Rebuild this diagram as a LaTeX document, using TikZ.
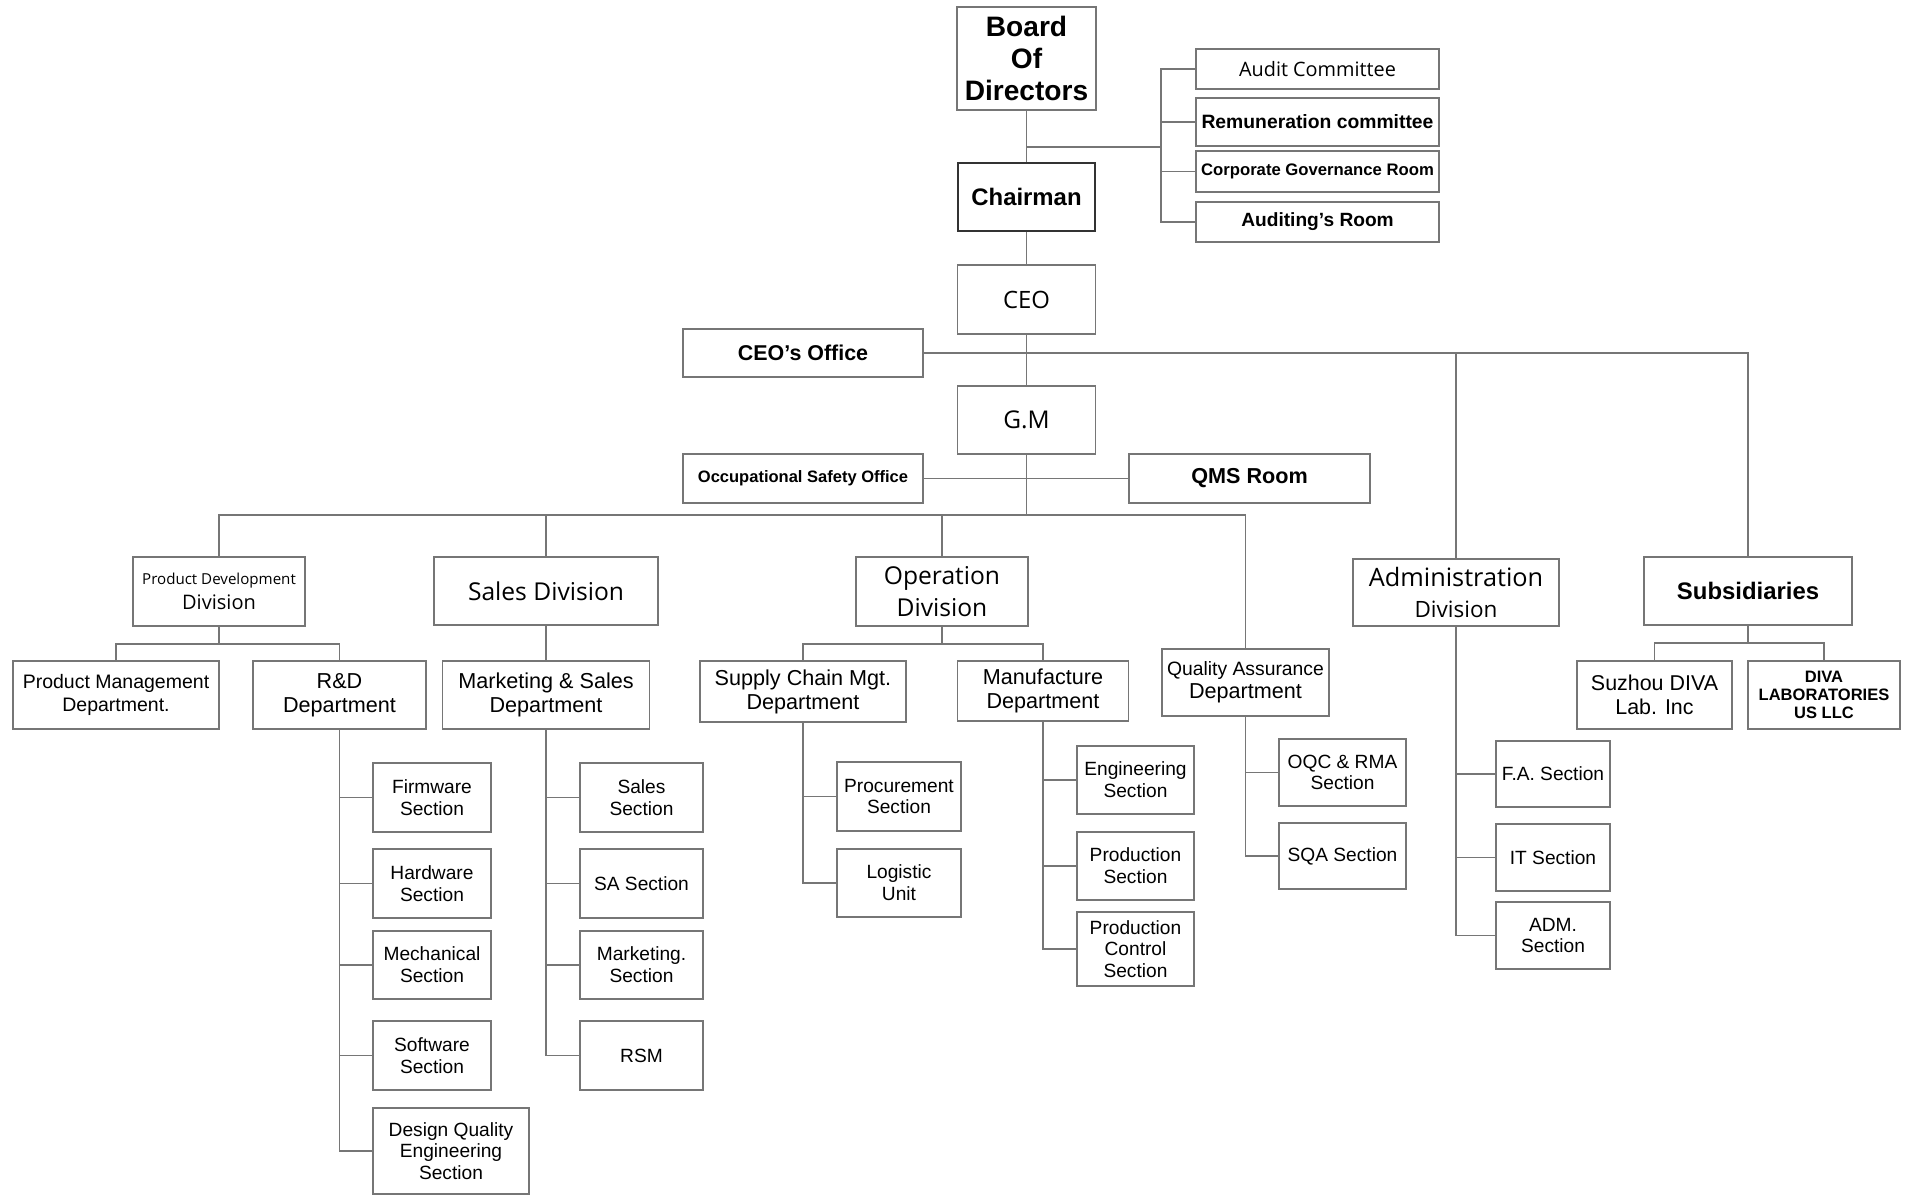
\documentclass[tikz,border=0pt]{standalone}
\usepackage{fontspec}
\setmainfont{Liberation Sans}
\newfontfamily\osans{Open Sans}
\definecolor{ln}{RGB}{118,118,118}
\begin{document}
\begin{tikzpicture}[x=0.02cm,y=-0.02cm,
  box/.style 2 args={draw=ln,line width=0.6pt,inner sep=0pt,align=center,minimum width=#1*0.02cm,minimum height=#2*0.02cm},
  sec/.style={font=\fontsize{10.9}{12.4}\selectfont},
  dept/.style={font=\fontsize{12.3}{13.7}\selectfont},
  wire/.style={draw=ln,line width=0.6pt}]
\fill[white] (0,0) rectangle (1920,1197);

\node[box={139}{103},font=\bfseries\fontsize{16}{18.2}\selectfont] (bod) at (1026.5,58.5) {Board\\Of\\Directors};
\node[box={137}{68},draw=black!80,font=\bfseries\fontsize{13.6}{15}\selectfont] (chair) at (1026.5,197) {Chairman};
\node[box={243}{40},font=\osans\fontsize{11.3}{13}\selectfont] (audit) at (1317.5,69) {Audit Committee};
\node[box={243}{48},font=\bfseries\fontsize{11}{13}\selectfont] (remun) at (1317.5,122) {Remuneration committee};
\node[box={243}{41},font=\bfseries\fontsize{9.5}{11}\selectfont] (corp) at (1317.5,171.5) {Corporate Governance Room};
\node[box={243}{40},font=\bfseries\fontsize{10.9}{12}\selectfont] (auditing) at (1317.5,222) {Auditing’s Room};

\node[box={138}{69},font=\osans\fontsize{13.6}{15}\selectfont] (ceo) at (1026.5,299.5) {CEO};
\node[box={240}{48},font=\bfseries\fontsize{12.2}{14}\selectfont] (ceooff) at (803,353) {CEO’s Office};
\node[box={138}{68},font=\osans\fontsize{13.9}{15}\selectfont] (gm) at (1026.5,420) {G.M};
\node[box={240}{49},font=\bfseries\fontsize{9.4}{11}\selectfont] (oso) at (803,478.5) {Occupational Safety Office};
\node[box={241}{49},font=\bfseries\fontsize{12.3}{14}\selectfont] (qms) at (1249.5,478.5) {QMS Room};

\node[box={172}{69},font=\osans\fontsize{11.4}{14.2}\selectfont] (pdd) at (219,591.5) {{\fontsize{8.6}{10}\selectfont Product Development}\\Division};
\node[box={224}{68},font=\osans\fontsize{14}{16}\selectfont] (sdiv) at (546,591) {Sales Division};
\node[box={172}{69},font=\osans\fontsize{14}{18.2}\selectfont] (odiv) at (942,591.5) {Operation\\Division};
\node[box={167}{67},font=\fontsize{12.3}{12.9}\selectfont] (qa) at (1245.5,682.5) {{\fontsize{11}{12}\selectfont Quality Assurance}\\Department};
\node[box={206}{67},font=\osans\fontsize{12.8}{17.5}\selectfont] (adiv) at (1456,592.5) {{\fontsize{14.4}{16}\selectfont Administration}\\Division};
\node[box={208}{68},font=\bfseries\fontsize{13.6}{15}\selectfont] (subs) at (1748,591) {Subsidiaries};
\node[box={155}{68},font=\fontsize{12.2}{13.7}\selectfont] (suz) at (1654.5,695) {Suzhou DIVA\\Lab. Inc};
\node[box={152}{68},font=\bfseries\fontsize{9.4}{10.4}\selectfont] (diva) at (1824,695) {DIVA\\LABORATORIES\\US LLC};

\node[box={206}{68},font=\fontsize{11.1}{12.9}\selectfont] (pmd) at (116,695) {Product Management\\Department.};
\node[box={173}{68},dept] (rnd) at (339.5,695) {R\&D\\Department};
\node[box={207}{68},dept] (msd) at (546,695) {Marketing \& Sales\\Department};
\node[box={206}{61},dept] (scm) at (803,691.5) {Supply Chain Mgt.\\Department};
\node[box={171}{60},dept] (mfg) at (1043,691) {Manufacture\\Department};

\node[box={118}{69},sec] (fw) at (432,797.5) {Firmware\\Section};
\node[box={118}{69},sec] (hw) at (432,883.5) {Hardware\\Section};
\node[box={118}{68},sec] (mech) at (432,965) {Mechanical\\Section};
\node[box={118}{69},sec] (sw) at (432,1055.5) {Software\\Section};
\node[box={156}{86},sec] (dqe) at (451,1151) {Design Quality\\Engineering\\Section};

\node[box={123}{69},sec] (ss) at (641.5,797.5) {Sales\\Section};
\node[box={123}{69},sec] (sa) at (641.5,883.5) {SA Section};
\node[box={123}{68},sec] (mkt) at (641.5,965) {Marketing.\\Section};
\node[box={123}{69},sec] (rsm) at (641.5,1055.5) {RSM};

\node[box={124}{69},sec] (proc) at (899,796.5) {Procurement\\Section};
\node[box={124}{68},sec] (logi) at (899,883) {Logistic\\Unit};

\node[box={117}{68},sec] (eng) at (1135.5,780) {Engineering\\Section};
\node[box={117}{68},sec] (prod) at (1135.5,866) {Production\\Section};
\node[box={117}{74},sec] (pcs) at (1135.5,949) {Production\\Control\\Section};

\node[box={127}{67},sec] (oqc) at (1342.5,772.5) {OQC \& RMA\\Section};
\node[box={127}{66},sec] (sqa) at (1342.5,856) {SQA Section};

\node[box={114}{66},sec] (fa) at (1553,774) {F.A. Section};
\node[box={114}{67},sec] (it) at (1553,857.5) {IT Section};
\node[box={114}{67},sec] (adm) at (1553,935.5) {ADM.\\Section};

\coordinate (cj) at (1161,147);
\coordinate (hub) at (1026.5,515);
\coordinate (pj) at (219,644);
\coordinate (oj) at (942,644);
\coordinate (sj) at (1748,643);

\draw[wire] (bod.south) -- (chair.north);
\draw[wire] (cj -| bod.south) -- (cj);
\draw[wire] (audit.west) -| (cj);
\draw[wire] (auditing.west) -| (cj);
\draw[wire] (remun.west) -- (remun.west -| cj);
\draw[wire] (corp.west) -- (corp.west -| cj);
\draw[wire] (chair.south) -- (ceo.north);
\draw[wire] (ceo.south) -- (gm.north);
\draw[wire] (ceooff.east) -| (subs.north);
\draw[wire] (adiv.north) -- (adiv.north |- ceooff.east);
\draw[wire] (oso.east) -- (qms.west);
\draw[wire] (gm.south) -- (hub);
\draw[wire] (pdd.north) |- (hub);
\draw[wire] (qa.north) |- (hub);
\draw[wire] (sdiv.north) -- (sdiv.north |- hub);
\draw[wire] (odiv.north) -- (odiv.north |- hub);

\draw[wire] (pdd.south) -- (pj);
\draw[wire] (pmd.north) |- (pj) -| (rnd.north);
\draw[wire] (sdiv.south) -- (msd.north);
\draw[wire] (odiv.south) -- (oj);
\draw[wire] (scm.north) |- (oj) -| (mfg.north);
\draw[wire] (subs.south) -- (sj);
\draw[wire] (suz.north) |- (sj) -| (diva.north);

\draw[wire] (rnd.south) |- (dqe.west);
\draw[wire] (fw.west) -- (fw.west -| rnd.south);
\draw[wire] (hw.west) -- (hw.west -| rnd.south);
\draw[wire] (mech.west) -- (mech.west -| rnd.south);
\draw[wire] (sw.west) -- (sw.west -| rnd.south);

\draw[wire] (msd.south) |- (rsm.west);
\draw[wire] (ss.west) -- (ss.west -| msd.south);
\draw[wire] (sa.west) -- (sa.west -| msd.south);
\draw[wire] (mkt.west) -- (mkt.west -| msd.south);

\draw[wire] (scm.south) |- (logi.west);
\draw[wire] (proc.west) -- (proc.west -| scm.south);

\draw[wire] (mfg.south) |- (pcs.west);
\draw[wire] (eng.west) -- (eng.west -| mfg.south);
\draw[wire] (prod.west) -- (prod.west -| mfg.south);

\draw[wire] (qa.south) |- (sqa.west);
\draw[wire] (oqc.west) -- (oqc.west -| qa.south);

\draw[wire] (adiv.south) |- (adm.west);
\draw[wire] (fa.west) -- (fa.west -| adiv.south);
\draw[wire] (it.west) -- (it.west -| adiv.south);

\end{tikzpicture}
\end{document}
